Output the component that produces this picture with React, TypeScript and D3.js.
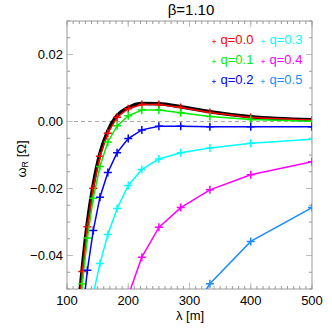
import React from "react";
import * as d3 from "d3";

// wavelengths of the sampled points (lambda = 1000/k)
const lambdas = [500, 400, 333.3, 285.7, 250, 222.2, 200, 181.8, 166.7, 153.8, 142.9, 133.3, 125, 117.6];

const q00 = [0.0004, 0.0012, 0.0027, 0.0042, 0.0051, 0.0051, 0.0038, 0.0013, -0.0035, -0.0104, -0.0199, -0.0314, -0.0448, -0.060];
const q01 = [0.0001, 0.0006, 0.0015, 0.0026, 0.0034, 0.0034, 0.0017, -0.0013, -0.0061, -0.0134, -0.0229, -0.0348, -0.0484, -0.064];
const q02 = [-0.0016, -0.0016, -0.0016, -0.0014, -0.0014, -0.0025, -0.0051, -0.0093, -0.0152, -0.0226, -0.0325, -0.0444, -0.058];
const q03 = [-0.0053, -0.0065, -0.0079, -0.0093, -0.0112, -0.0143, -0.0191, -0.0260, -0.0337, -0.0424, -0.0515];
const q04 = [-0.0120, -0.0159, -0.0204, -0.0257, -0.0316, -0.0405, -0.052];
const q05 = [-0.0257, -0.0358, -0.0484, -0.062];

// analytic curve (thick black)
const exact = [0.0005, 0.0014, 0.0029, 0.0044, 0.0053, 0.0054, 0.0042, 0.0018, -0.0028, -0.0095, -0.0188, -0.0302, -0.0438, -0.058];

const seriesNames = ["q=0.0", "q=0.1", "q=0.2", "q=0.3", "q=0.4", "q=0.5"];
const seriesValues = [q00, q01, q02, q03, q04, q05];
const seriesColors = ["#ff0000", "#00ee00", "#0000ff", "#00ffff", "#ff00ff", "#1e8cff"];

const xTicks = [100, 200, 300, 400, 500];
const yTicks = [-0.04, -0.02, 0.0, 0.02];

export default function App() {
  const left = 67, right = 312, top = 21, bottom = 289;
  const x = d3.scaleLinear().domain([100, 500]).range([left, right]);
  const y = d3.scaleLinear().domain([-0.05, 0.03]).range([bottom, top]);
  const font = "'Liberation Sans', Arial, Helvetica, sans-serif";
  const frame = "#999";

  const line = d3.line<[number, number]>().x((d) => x(d[0])).y((d) => y(d[1]));
  const smooth = d3.line<[number, number]>().x((d) => x(d[0])).y((d) => y(d[1])).curve(d3.curveMonotoneX);

  const exactPts = lambdas.map((l, i) => [l, exact[i]] as [number, number]).sort((a, b) => a[0] - b[0]);

  const xMinor = d3.range(100, 501, 10);
  const yMinor = d3.range(-0.05, 0.0301, 0.005);

  const plus = (cx: number, cy: number, s: number, color: string, w: number, key: string) => (
    <path key={key} d={`M${cx - s},${cy}H${cx + s}M${cx},${cy - s}V${cy + s}`} stroke={color} strokeWidth={w} fill="none" />
  );

  return (
    <svg width={332} height={332} style={{ position: "absolute", left: 0, top: 0 }} fontFamily={font}>
      <defs>
        <clipPath id="plotclip">
          <rect x={left} y={top} width={right - left} height={bottom - top} />
        </clipPath>
      </defs>
      <rect width={332} height={332} fill="#fff" />

      {/* zero line */}
      <line x1={left} x2={right} y1={y(0)} y2={y(0)} stroke="#aaa" strokeDasharray="4,3" strokeWidth={1} />

      {/* minor ticks */}
      {xMinor.map((v) => (
        <g key={"xm" + v}>
          <line x1={x(v)} x2={x(v)} y1={bottom} y2={bottom - 3} stroke={frame} />
          <line x1={x(v)} x2={x(v)} y1={top} y2={top + 3} stroke={frame} />
        </g>
      ))}
      {yMinor.map((v, i) => (
        <g key={"ym" + i}>
          <line x1={left} x2={left + 3} y1={y(v)} y2={y(v)} stroke={frame} />
          <line x1={right} x2={right - 3} y1={y(v)} y2={y(v)} stroke={frame} />
        </g>
      ))}
      {/* major ticks */}
      {xTicks.map((v) => (
        <g key={"xM" + v}>
          <line x1={x(v)} x2={x(v)} y1={bottom} y2={bottom - 6} stroke="#bbb" />
          <line x1={x(v)} x2={x(v)} y1={top} y2={top + 6} stroke="#bbb" />
          <text x={x(v)} y={305} textAnchor="middle" fontSize={13} fill="#000">{v}</text>
        </g>
      ))}
      {yTicks.map((v) => (
        <g key={"yM" + v}>
          <line x1={left} x2={left + 6} y1={y(v)} y2={y(v)} stroke="#bbb" />
          <line x1={right} x2={right - 6} y1={y(v)} y2={y(v)} stroke="#bbb" />
          <text x={63} y={y(v) + 4.5} textAnchor="end" fontSize={13} fill="#000">{d3.format(".2f")(v)}</text>
        </g>
      ))}

      <rect x={left} y={top} width={right - left} height={bottom - top} fill="none" stroke={frame} strokeWidth={1} />

      <g clipPath="url(#plotclip)">
        <path d={smooth(exactPts) || ""} fill="none" stroke="#000" strokeWidth={3.5} />
        {seriesValues.map((vals, si) => {
          const pts = vals.map((v, i) => [lambdas[i], v] as [number, number]);
          return (
            <g key={"s" + si}>
              <path d={line(pts) || ""} fill="none" stroke={seriesColors[si]} strokeWidth={1.5} />
              {pts.map((p, i) => plus(x(p[0]), y(p[1]), 4, seriesColors[si], 1.5, "p" + si + "-" + i))}
            </g>
          );
        })}
      </g>

      {/* legend */}
      {seriesNames.map((n, i) => {
        const col = Math.floor(i / 3);
        const row = i % 3;
        const lx = col === 0 ? 214 : 263;
        const ly = 39 + row * 20;
        return (
          <g key={"l" + i}>
            {plus(lx, ly + 2.5, 2, seriesColors[i], 0.7, "lp" + i)}
            <text x={lx + 6.5} y={ly + 5} fontSize={13} fill={seriesColors[i]}>{n}</text>
          </g>
        );
      })}

      <text x={191} y={15} textAnchor="middle" fontSize={15} fill="#000">β=1.10</text>
      <text x={190} y={320} textAnchor="middle" fontSize={13} fill="#000">λ [m]</text>
      <text transform={`translate(26,${(top + bottom) / 2 + 4}) rotate(-90)`} textAnchor="middle" fontSize={13} fill="#000">
        ω<tspan fontSize={9} dy={2}>R</tspan><tspan dy={-2}> [Ω]</tspan>
      </text>
    </svg>
  );
}
